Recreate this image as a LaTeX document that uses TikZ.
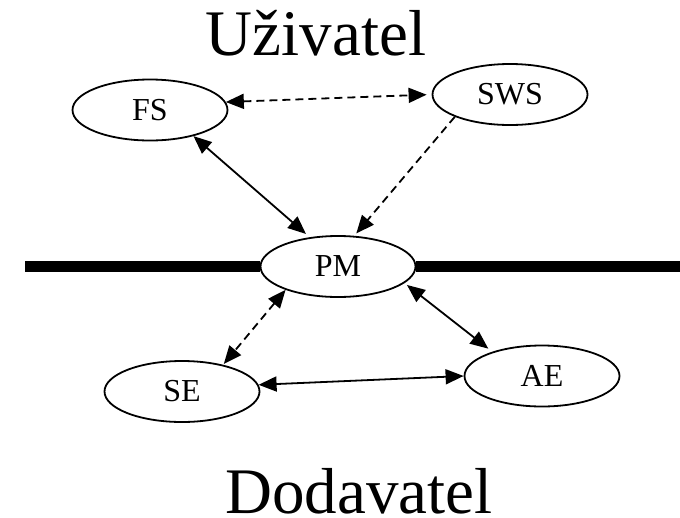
\documentclass[tikz,border=0pt]{standalone}
\usepackage{fontspec}
\setmainfont{Liberation Serif}
\usetikzlibrary{shapes.geometric,arrows.meta}
\tikzset{>={Triangle[length=18pt,width=15pt]}}
\begin{document}
\begin{tikzpicture}[x=1pt,y=-1pt,
  ell/.style={ellipse,draw,line width=1.8pt,fill=white,inner sep=0pt,
    minimum width=155pt,minimum height=61pt,font=\fontsize{32}{36}\selectfont},
  title/.style={anchor=base,inner sep=0pt,font=\fontsize{65}{70}\selectfont},
  conn/.style={line width=1.8pt,<->},
  connend/.style={line width=1.8pt,->},
  dsh/.style={dash pattern=on 8pt off 5pt},
  bar/.style={line width=11pt}]
\useasboundingbox (0,0) rectangle (680,517);
\node[title] (U) at (316,55) {Uživatel};
\node[title] (D) at (359,513) {Dodavatel};
\node[ell] (FS) at (150,110) {FS};
\node[ell] (SWS) at (510,94.5) {SWS};
\node[ell] (PM) at (338,266.5) {PM};
\node[ell] (SE) at (182,391.5) {SE};
\node[ell] (AE) at (542,376) {AE};
\coordinate (L) at (25,266.5);
\coordinate (R) at (680,266.5);
\draw[bar] (L) -- (PM.west);
\draw[bar] (PM.east) -- (R);
\draw[conn,dsh,shorten >=5pt] (FS.6) -- (SWS.west);
\draw[conn,shorten >=5pt] (FS.-31) -- (PM.134);
\draw[connend,dsh,shorten >=3pt] (SWS.202) -- (PM.62);
\draw[conn,dsh,shorten >=1pt] (PM.204) -- (SE.33.5);
\draw[conn,shorten <=3pt,shorten >=5pt] (PM.-14) -- (AE.154);
\draw[conn] (SE.5) -- (AE.west);
\end{tikzpicture}
\end{document}
